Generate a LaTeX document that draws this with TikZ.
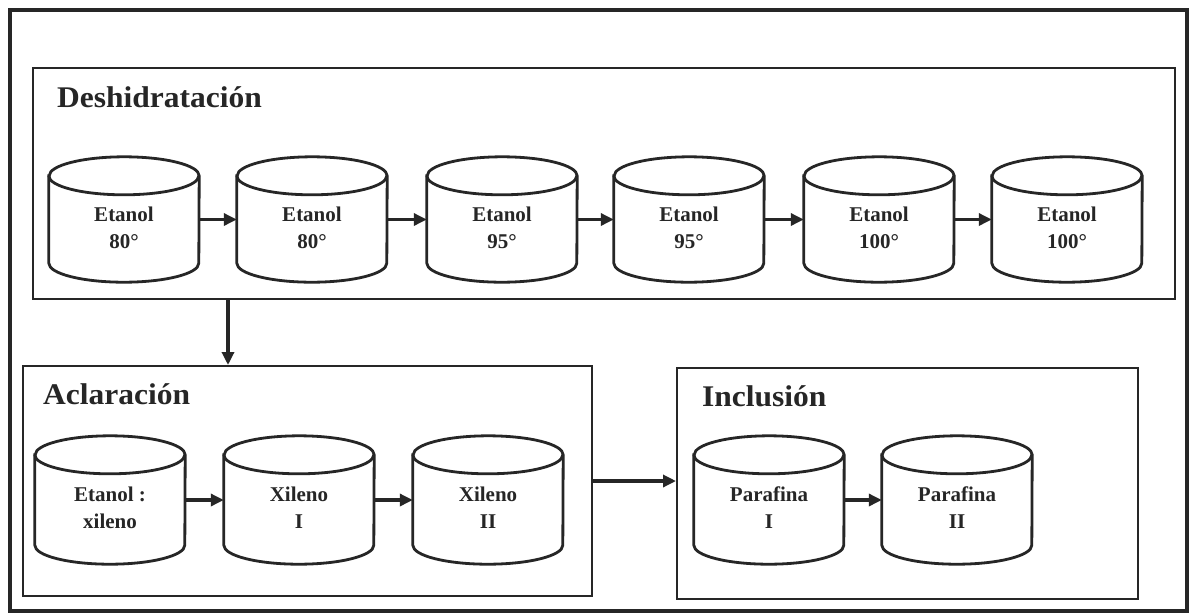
\documentclass[tikz,border=0pt]{standalone}
\usepackage{fontspec}
\setmainfont{Liberation Serif}
\newfontfamily\titlefont[FakeStretch=1.05]{Liberation Serif}
\usetikzlibrary{arrows.meta,calc}
\newcommand\drawvessel[1]{%
  \draw[cylline] ($(#1.north west)+(0,19)$) -- ($(#1.south west)+(0,-19)$)
    arc[start angle=180,end angle=360,x radius=75pt,y radius=19pt]
    -- ($(#1.north east)+(0,19)$)
    arc[start angle=0,end angle=180,x radius=75pt,y radius=19pt] -- cycle;
  \draw[cylline,fill=none] ($(#1.north west)+(0,19)$)
    arc[start angle=180,end angle=360,x radius=75pt,y radius=19pt];
}
\begin{document}
\begin{tikzpicture}[x=1pt,y=-1pt,
  ink/.style={draw=black!85},
  frame/.style={ink,line width=3.5pt,rectangle,inner sep=0pt},
  stage/.style={ink,line width=2pt,rectangle,inner sep=0pt},
  title/.style={font=\titlefont\bfseries\fontsize{30}{36}\selectfont,inner sep=0pt,anchor=base west,text=black!85},
  vessel/.style={rectangle,inner sep=0pt,minimum width=150pt},
  topv/.style={vessel,minimum height=125pt},
  lowv/.style={vessel,minimum height=128pt},
  vlabel/.style={font=\bfseries\fontsize{21}{27}\selectfont,align=center,text=black!85,inner sep=0pt},
  flow/.style={ink,line width=3.2pt,-{Triangle[length=13pt,width=12pt]}},
  cylline/.style={ink,line width=2.8pt,fill=white}
]
\useasboundingbox (0,0) rectangle (1190,614);
\fill[white] (0,0) rectangle (1190,614);

% frames
\node[frame,minimum width=1177pt,minimum height=601pt] (outer) at (598.5,310.5) {};
\node[stage,minimum width=1142pt,minimum height=231pt] (des) at (604,183.5) {};
\node[stage,minimum width=569pt,minimum height=230pt] (acl) at (307.5,481) {};
\node[stage,minimum width=461pt,minimum height=231pt] (inc) at (907.5,483.5) {};

% titles
\node[title] (tdes) at (57,107) {Deshidratación};
\node[title] (tacl) at (43,404) {Aclaración};
\node[title] (tinc) at (702,406) {Inclusión};

% top row vessels
\foreach \n/\x/\t in {d1/124/{Etanol\\80°},d2/312/{Etanol\\80°},d3/502/{Etanol\\95°},
                      d4/689/{Etanol\\95°},d5/879/{Etanol\\100°},d6/1067/{Etanol\\100°}}{
  \node[topv] (\n) at (\x,219.5) {};
  \drawvessel{\n}
  \node[vlabel] (\n-t) at ($(\n)+(0,8)$) {\t};
}
% lower row vessels
\foreach \n/\x/\t in {a1/110/{Etanol :\\xileno},a2/299/{Xileno\\I},a3/488/{Xileno\\II},
                      i1/769/{Parafina\\I},i2/957/{Parafina\\II}}{
  \node[lowv] (\n) at (\x,500) {};
  \drawvessel{\n}
  \node[vlabel] (\n-t) at ($(\n)+(0,8)$) {\t};
}

% connectors
\draw[flow] (d1.east) -- (d2.west);
\draw[flow] (d2.east) -- (d3.west);
\draw[flow] (d3.east) -- (d4.west);
\draw[flow] (d4.east) -- (d5.west);
\draw[flow] (d5.east) -- (d6.west);
\draw[flow] (a1.east) -- (a2.west);
\draw[flow] (a2.east) -- (a3.west);
\draw[flow] (i1.east) -- (i2.west);
\coordinate (split) at (228,0);
\draw[flow] (split |- des.south) -- (split |- acl.north);
\draw[flow] (acl.east) -- (acl.east -| inc.west);
\end{tikzpicture}
\end{document}
